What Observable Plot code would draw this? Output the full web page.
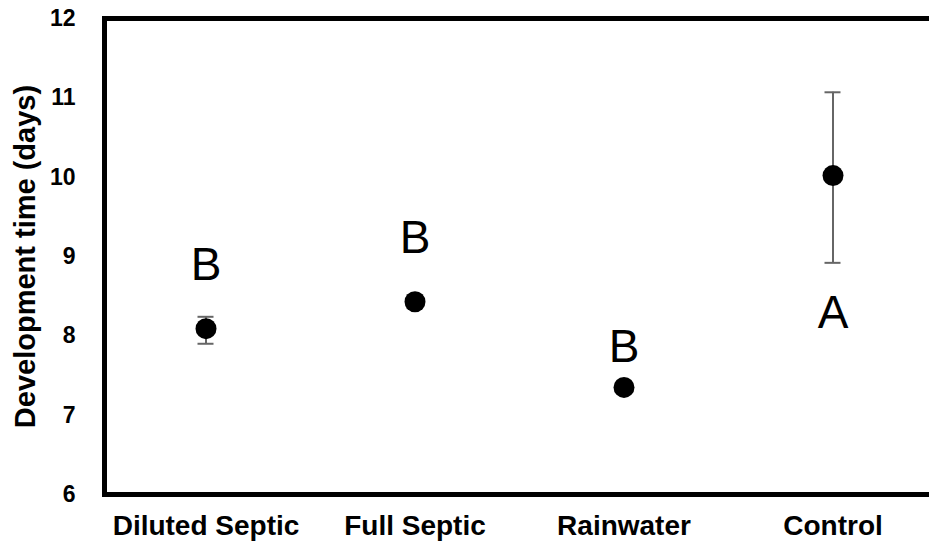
<!DOCTYPE html>
<html>
<head>
<meta charset="utf-8">
<script src="https://cdn.jsdelivr.net/npm/d3@7"></script>
<script src="https://cdn.jsdelivr.net/npm/@observablehq/plot@0.6"></script>
<style>
  html, body { margin: 0; padding: 0; background: #fff; }
  svg { display: block; }
</style>
</head>
<body>
<div id="chart"></div>
<script>
const categories = ["Diluted Septic", "Full Septic", "Rainwater", "Control"];
const means = [8.09, 8.43, 7.35, 10.02];
const errLow = [7.90, 8.35, 7.30, 8.92];
const errHigh = [8.24, 8.51, 7.40, 11.07];
const letters = ["B", "B", "B", "A"];
const letterY = [8.89, 9.23, 7.85, 8.28];
const yTicks = [6, 7, 8, 9, 10, 11, 12];
const yLabel = "Development time (days)";

const data = categories.map((c, i) => ({
  cat: c, mean: means[i], lo: errLow[i], hi: errHigh[i], letter: letters[i], ly: letterY[i]
}));

const font = "'Liberation Sans', Arial, Helvetica, sans-serif";

const chart = Plot.plot({
  width: 929,
  height: 546,
  marginLeft: 104,
  marginRight: -4,
  marginTop: 18,
  marginBottom: 52,
  style: { fontFamily: font, background: "#fff", color: "#000", overflow: "visible" },
  x: { type: "band", domain: categories, paddingInner: 0, paddingOuter: -0.017, label: null },
  y: { domain: [6, 12], label: null },
  marks: [
    Plot.axisY({ ticks: yTicks, tickFormat: d => String(d), tickSize: 0, tickPadding: 29, fontSize: 23, fontWeight: "bold", label: null }),
    Plot.axisX({ tickSize: 0, tickPadding: 21, fontSize: 28, fontWeight: "bold", label: null }),
    Plot.text([yLabel], {
      frameAnchor: "left", rotate: -90, dx: -79, fontSize: 29, fontWeight: "bold",
      textAnchor: "middle", lineAnchor: "middle", fill: "#000"
    }),
    Plot.frame({ stroke: "#000", strokeWidth: 5 }),
    Plot.ruleX(data, { x: "cat", y1: "lo", y2: "hi", stroke: "#666", strokeWidth: 2 }),
    Plot.tickY(data, { x: "cat", y: "lo", stroke: "#666", strokeWidth: 2, inset: 96.5 }),
    Plot.tickY(data, { x: "cat", y: "hi", stroke: "#666", strokeWidth: 2, inset: 96.5 }),
    Plot.dot(data, { x: "cat", y: "mean", r: 10.5, fill: "#000", stroke: "none" }),
    Plot.text(data, { x: "cat", y: "ly", text: "letter", fontSize: 46, fill: "#000", lineAnchor: "middle" })
  ]
});
document.getElementById("chart").appendChild(chart);
</script>
</body>
</html>
